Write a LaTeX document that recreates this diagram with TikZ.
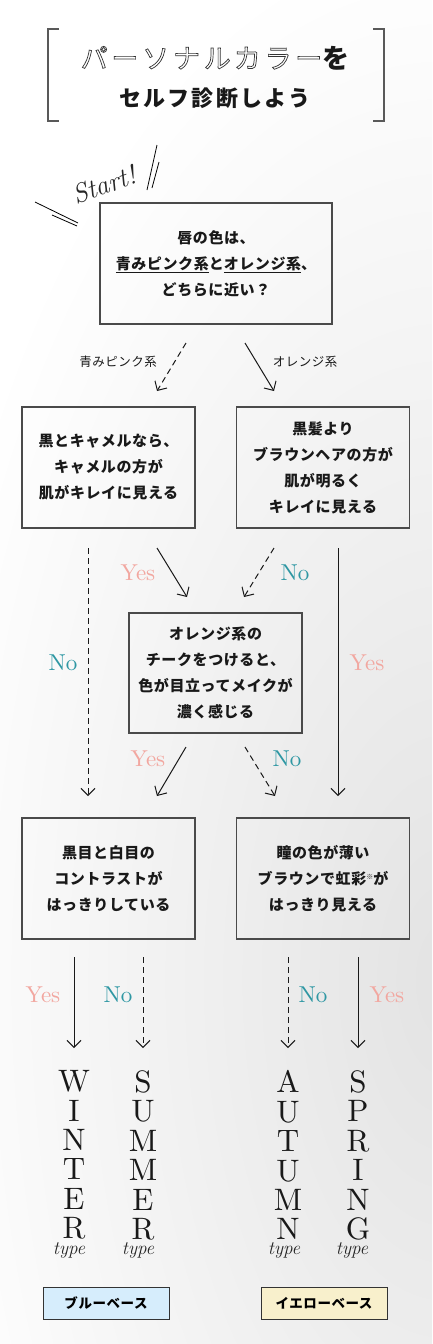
\documentclass[tikz,border=0pt]{standalone}
\usepackage{fontspec}
\usetikzlibrary{arrows.meta}
\newfontfamily\jp{Noto Sans CJK JP}[LetterSpace=4]
\newfontfamily\jpt{Noto Sans CJK JP}[LetterSpace=10]
\newfontfamily\jptitle{Noto Sans CJK JP}[LetterSpace=14]
\newfontfamily\serifx{lmroman10-regular.otf}
\definecolor{yescol}{HTML}{F2A7A0}
\definecolor{nocol}{HTML}{2E97A3}
\definecolor{boxline}{HTML}{4A4A4A}
\definecolor{bluebase}{HTML}{D6EDFC}
\definecolor{yellowbase}{HTML}{F8F0CC}
\newcommand{\outlinetxt}[1]{\special{pdf:literal direct 1 Tr 0.7 w}#1\special{pdf:literal direct 0 Tr}}
\begin{document}
\begin{tikzpicture}[x=1pt,y=-1pt,
  qbox/.style={draw=boxline, line width=1.1pt, minimum width=173pt, minimum height=121pt,
    align=center, inner sep=0pt, font=\jp\bfseries\fontsize{15}{26}\selectfont, text=black!90},
  arr/.style={line width=1pt, draw=black!90, -{Straight Barb[length=7pt,width=14pt]}},
  dsh/.style={dash pattern=on 6pt off 4pt},
  yeslbl/.style={text=yescol, font=\serifx\fontsize{23}{23}\selectfont},
  nolbl/.style={text=nocol, font=\serifx\fontsize{23}{23}\selectfont},
  smalllbl/.style={font=\jp\fontsize{12.5}{14}\selectfont, text=black!90},
  season/.style={font=\serifx\fontsize{31}{29.4}\selectfont, align=center, inner sep=0pt, anchor=north, text=black!90},
  typelbl/.style={font=\itshape\fontsize{19}{19}\selectfont, text=black!85},
  basebox/.style={draw=black!80, line width=1pt, minimum width=126pt, minimum height=32pt,
    inner sep=0pt, font=\jp\bfseries\fontsize{13.5}{14}\selectfont},
  bracket/.style={draw=black!65, line width=1.2pt}
]
\useasboundingbox (0,0) rectangle (432,1344);
% background glow
\begin{scope}
  \clip (0,0) rectangle (432,1344);
  \shade[inner color=black!11, outer color=white, draw=none] (445,980) ellipse [x radius=540pt, y radius=1050pt];
\end{scope}

% title
\draw[bracket] (59,29) -- (48,29) -- (48,121) -- (59,121);
\draw[bracket] (373,29) -- (384,29) -- (384,121) -- (373,121);
\node[font=\fontsize{27}{30}\selectfont, inner sep=0pt] (title1) at (215,58)
  {{\jptitle\color{black!80}\outlinetxt{パーソナルカラー}}{\jptitle\bfseries\color{black!90}を}};
\node[font=\jpt\bfseries\fontsize{22}{26}\selectfont, text=black!90, inner sep=0pt] (title2) at (215,98) {セルフ診断しよう};

% start decoration
\node[rotate=20, font=\itshape\fontsize{27}{27}\selectfont, text=black!85] (start) at (104,185) {Start!};
\draw[line width=0.8pt] (157,145) -- (147,190);
\draw[line width=0.8pt] (159,162) -- (152,188);
\draw[line width=0.8pt] (35,202) -- (78,223);
\draw[line width=0.8pt] (52,215) -- (77,226);

% boxes
\node[qbox, minimum width=232pt] (q1) at (216,263.5)
  {唇の色は、\\\underline{青みピンク系}と\underline{オレンジ系}、\\どちらに近い？};
\node[qbox] (q2l) at (108.5,467.5) {黒とキャメルなら、\\キャメルの方が\\肌がキレイに見える};
\node[qbox] (q2r) at (323,467.5) {黒髪より\\ブラウンヘアの方が\\肌が明るく\\キレイに見える};
\node[qbox, minimum height=120pt] (q3) at (215.5,673) {オレンジ系の\\チークをつけると、\\色が目立ってメイクが\\濃く感じる};
\node[qbox] (q4l) at (108.5,878.5) {黒目と白目の\\コントラストが\\はっきりしている};
\node[qbox] (q4r) at (323,878.5) {瞳の色が薄い\\ブラウンで虹彩\raisebox{5pt}{\fontsize{7}{7}\selectfont ※}が\\はっきり見える};

% connector end points
\coordinate (a1s) at (186,343); \coordinate (a1e) at (157,391);
\coordinate (a2s) at (245,343); \coordinate (a2e) at (274,391);
\coordinate (a3s) at (88,548);  \coordinate (a3e) at (88,796);
\coordinate (a4s) at (157,548); \coordinate (a4e) at (187,597);
\coordinate (a5s) at (274,548); \coordinate (a5e) at (244,597);
\coordinate (a6s) at (338,548); \coordinate (a6e) at (338,796);
\coordinate (a7s) at (186,747); \coordinate (a7e) at (157,796);
\coordinate (a8s) at (245,747); \coordinate (a8e) at (275,796);
\coordinate (a9s) at (74,957);  \coordinate (a9e) at (74,1048);
\coordinate (a10s) at (143,957); \coordinate (a10e) at (143,1048);
\coordinate (a11s) at (288,957); \coordinate (a11e) at (288,1048);
\coordinate (a12s) at (358,957); \coordinate (a12e) at (358,1048);

\draw[arr, dsh] (a1s) -- (a1e);
\draw[arr] (a2s) -- (a2e);
\draw[arr, dsh] (a3s) -- (a3e);
\draw[arr] (a4s) -- (a4e);
\draw[arr, dsh] (a5s) -- (a5e);
\draw[arr] (a6s) -- (a6e);
\draw[arr] (a7s) -- (a7e);
\draw[arr, dsh] (a8s) -- (a8e);
\draw[arr] (a9s) -- (a9e);
\draw[arr, dsh] (a10s) -- (a10e);
\draw[arr, dsh] (a11s) -- (a11e);
\draw[arr] (a12s) -- (a12e);

% labels
\node[smalllbl] (lpink) at (118,362) {青みピンク系};
\node[smalllbl] (lorange) at (305,362) {オレンジ系};
\node[yeslbl] (y1) at (138,573) {Yes};
\node[nolbl] (n1) at (295,573) {No};
\node[nolbl] (n2) at (63,663) {No};
\node[yeslbl] (y2) at (367,663) {Yes};
\node[yeslbl] (y3) at (148,759) {Yes};
\node[nolbl] (n3) at (287,759) {No};
\node[yeslbl] (y4) at (43,995) {Yes};
\node[nolbl] (n4) at (118,995) {No};
\node[nolbl] (n5) at (313,995) {No};
\node[yeslbl] (y5) at (387,995) {Yes};

% seasons
\node[season] (winter) at (74,1070.4) {W\\I\\N\\T\\E\\R};
\node[season] (summer) at (143,1070.4) {S\\U\\M\\M\\E\\R};
\node[season] (autumn) at (288,1070.4) {A\\U\\T\\U\\M\\N};
\node[season] (spring) at (358,1070.4) {S\\P\\R\\I\\N\\G};
\node[typelbl] (tw) at (69,1250) {type};
\node[typelbl] (ts) at (138,1250) {type};
\node[typelbl] (ta) at (284,1250) {type};
\node[typelbl] (tsp) at (352,1250) {type};

% base boxes
\node[basebox, fill=bluebase] (blue) at (106,1303) {ブルーベース};
\node[basebox, fill=yellowbase] (yellow) at (324,1303) {イエローベース};
\end{tikzpicture}
\end{document}
